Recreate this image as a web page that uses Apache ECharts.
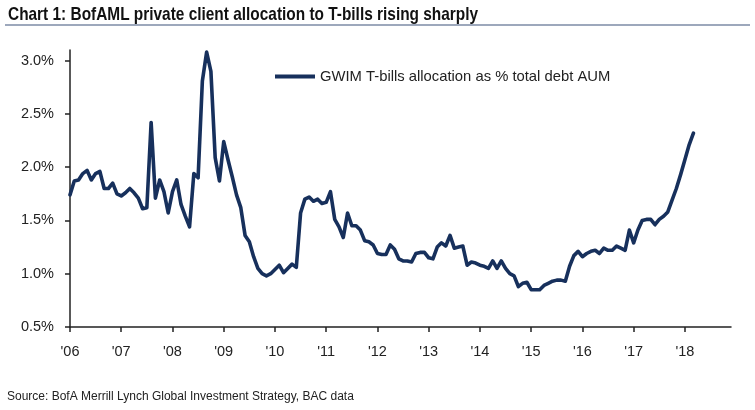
<!DOCTYPE html>
<html><head><meta charset="utf-8">
<script src="https://cdn.jsdelivr.net/npm/echarts@6/dist/echarts.min.js"></script>
<style>html,body{margin:0;padding:0;background:#fff}#chart{width:755px;height:410px}</style>
</head><body><div id="chart"></div>
<script>
const titleText = 'Chart 1: BofAML private client allocation to T-bills rising sharply';
const sourceText = 'Source: BofA Merrill Lynch Global Investment Strategy, BAC data';
const seriesName = 'GWIM T-bills allocation as % total debt AUM';
const startYear = 2006;
const yearTicks = [2006, 2007, 2008, 2009, 2010, 2011, 2012, 2013, 2014, 2015, 2016, 2017, 2018];
const yTicks = [0.5, 1.0, 1.5, 2.0, 2.5, 3.0];

// Monthly values (% of total debt AUM), Jan of each year onward
const v2006 = [1.74, 1.87, 1.88, 1.94, 1.97, 1.88, 1.94, 1.96, 1.80, 1.80, 1.85, 1.75];
const v2007 = [1.73, 1.76, 1.80, 1.76, 1.71, 1.61, 1.62, 2.42, 1.71, 1.88, 1.77, 1.57];
const v2008 = [1.77, 1.88, 1.65, 1.54, 1.44, 1.94, 1.90, 2.81, 3.08, 2.90, 2.09, 1.87];
const v2009 = [2.24, 2.07, 1.91, 1.74, 1.62, 1.36, 1.30, 1.16, 1.05, 1.00, 0.98, 1.00];
const v2010 = [1.04, 1.08, 1.01, 1.05, 1.09, 1.06, 1.57, 1.70, 1.72, 1.68, 1.70, 1.66];
const v2011 = [1.67, 1.77, 1.51, 1.44, 1.34, 1.57, 1.45, 1.45, 1.41, 1.31, 1.30, 1.27];
const v2012 = [1.19, 1.18, 1.18, 1.27, 1.23, 1.14, 1.12, 1.12, 1.11, 1.19, 1.20, 1.20];
const v2013 = [1.15, 1.14, 1.25, 1.29, 1.26, 1.36, 1.24, 1.25, 1.26, 1.08, 1.11, 1.10];
const v2014 = [1.08, 1.07, 1.05, 1.12, 1.05, 1.12, 1.05, 1.00, 0.98, 0.88, 0.91, 0.92];
const v2015 = [0.85, 0.85, 0.85, 0.89, 0.91, 0.93, 0.94, 0.94, 0.93, 1.07, 1.17, 1.21];
const v2016 = [1.16, 1.19, 1.21, 1.22, 1.19, 1.24, 1.22, 1.22, 1.26, 1.24, 1.22, 1.41];
const v2017 = [1.29, 1.41, 1.50, 1.51, 1.51, 1.46, 1.51, 1.54, 1.58, 1.69, 1.80, 1.93];
const v2018 = [2.07, 2.21, 2.32];

const allocation = [].concat(v2006, v2007, v2008, v2009, v2010, v2011, v2012, v2013, v2014, v2015, v2016, v2017, v2018);
const points = allocation.map((v, i) => [startYear + i / 12, v]);

const navy = '#17305c';
const textColor = '#222';
const font = "'Liberation Sans', Arial, sans-serif";

const chart = echarts.init(document.getElementById('chart'));
chart.setOption({
  animation: false,
  backgroundColor: '#fff',
  graphic: [
    { type: 'text', x: 8, y: 5, scaleX: 0.833, originX: 0, originY: 0,
      style: { text: titleText, fill: '#111', font: "bold 18.5px 'Liberation Sans', Arial, sans-serif", verticalAlign: 'top', textVerticalAlign: 'top' } },
    { type: 'line', shape: { x1: 5, y1: 25, x2: 750, y2: 25 }, style: { stroke: '#7d8ba6', lineWidth: 1.5 } },
    { type: 'text', left: 7, top: 391, style: { text: sourceText, fill: textColor, font: "12px 'Liberation Sans', Arial, sans-serif" } }
  ],
  legend: {
    left: 275, top: 69, padding: 0,
    icon: 'rect', itemWidth: 40, itemHeight: 4,
    data: [seriesName],
    textStyle: { color: textColor, fontSize: 14.8, fontFamily: font }
  },
  grid: { left: 70, right: 24, top: 50, bottom: 83, containLabel: false },
  xAxis: {
    type: 'value', min: 2006, max: 2018.9,
    axisLine: { show: true, lineStyle: { color: textColor, width: 1.5 } },
    axisTick: { show: true, inside: false, length: 5, customValues: yearTicks, lineStyle: { color: textColor, width: 1.5 } },
    axisLabel: { customValues: yearTicks, color: textColor, fontSize: 14.5, fontFamily: font, margin: 17,
      formatter: v => "'" + String(Math.round(v)).slice(2) },
    splitLine: { show: false }
  },
  yAxis: {
    type: 'value', min: 0.5, max: 3.1,
    axisLine: { show: true, lineStyle: { color: textColor, width: 1.5 } },
    axisTick: { show: true, inside: false, length: 5, customValues: yTicks, lineStyle: { color: textColor, width: 1.5 } },
    axisLabel: { customValues: yTicks, color: textColor, fontSize: 14.5, fontFamily: font, margin: 16,
      formatter: v => v.toFixed(1) + '%' },
    splitLine: { show: false }
  },
  series: [{
    name: seriesName, type: 'line', data: points,
    symbol: 'none', showSymbol: false, clip: false,
    lineStyle: { color: navy, width: 3.6, join: 'round', cap: 'round' },
    itemStyle: { color: navy }
  }]
});
</script></body></html>
